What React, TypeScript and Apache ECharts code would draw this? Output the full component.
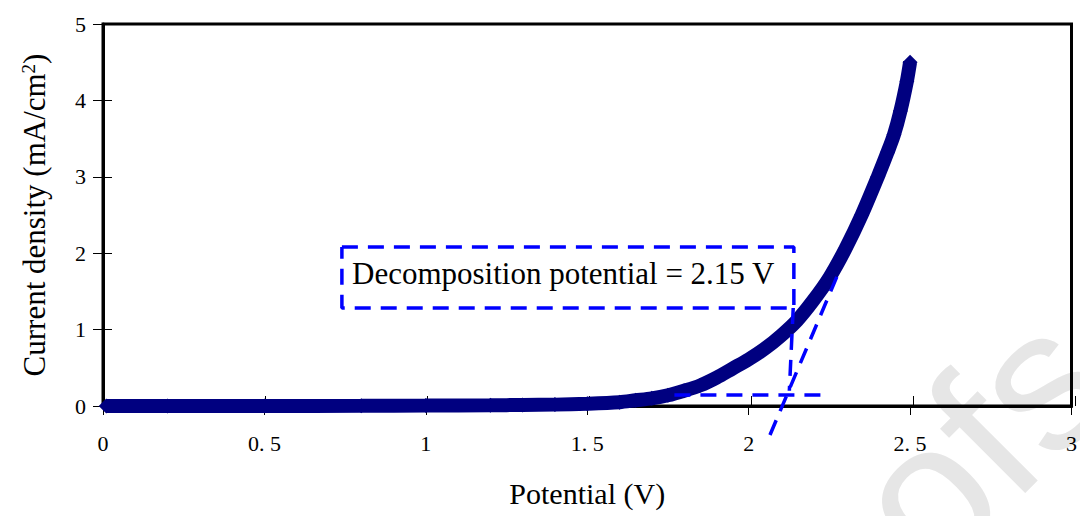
import React, { useEffect, useRef } from "react";
import * as echarts from "echarts";

// Measured polarization curve
const potential = [0.01, 0.2, 0.5, 0.8, 1.0, 1.2, 1.3, 1.4, 1.5, 1.6, 1.65, 1.7, 1.75, 1.8, 1.85, 1.9, 1.95, 2.0, 2.05, 2.1, 2.15, 2.2, 2.25, 2.3, 2.35, 2.4, 2.43, 2.45, 2.47, 2.49, 2.5];
const current = [0, 0, 0, 0.002, 0.005, 0.01, 0.013, 0.018, 0.03, 0.05, 0.075, 0.1, 0.14, 0.2, 0.27, 0.37, 0.49, 0.61, 0.75, 0.92, 1.12, 1.38, 1.68, 2.06, 2.5, 3.0, 3.32, 3.55, 3.86, 4.25, 4.5];

// Annotation geometry (data coordinates)
const boxPotential = [0.74, 2.14, 2.14, 0.74, 0.74];
const boxCurrent = [2.08, 2.08, 1.283, 1.283, 2.08];
const dropPotential = [2.138, 2.126];
const dropCurrent = [1.283, 0.2];
const baselinePotential = [1.77, 2.226];
const baselineCurrent = [0.144, 0.144];
const tangentPotential = [2.066, 2.273];
const tangentCurrent = [-0.38, 1.69];

const annotationText = "Decomposition potential = 2.15 V";
const xTitle = "Potential (V)";
const yTitle = "Current density (mA/cm{sup|2})";
const watermark = "Proofs";

const zip = (a: number[], b: number[]) => a.map((v, i) => [v, b[i]]);

const SERIF = "'Liberation Serif', 'Times New Roman', serif";
const BLUE = "#0000ff";
const NAVY = "#000080";

export default function App() {
  const ref = useRef<HTMLDivElement>(null);
  useEffect(() => {
    if (!ref.current) return;
    const chart = echarts.init(ref.current, undefined, { renderer: "svg" });
    const dashed = (a: number[], b: number[]) => ({
      type: "line",
      data: zip(a, b),
      symbol: "none",
      clip: false,
      silent: true,
      z: 5,
      lineStyle: { color: BLUE, width: 3.5, type: [16, 10] },
    });
    const gridBox = { left: 103, right: 5, top: 24, bottom: 110 };
    const tickStyle = { color: "#000", width: 1 };
    chart.setOption({
      animation: false,
      grid: [
        { ...gridBox, show: true, borderColor: "#000", borderWidth: 3 },
        { ...gridBox, show: false },
      ],
      xAxis: [
        {
          type: "value",
          gridIndex: 0,
          min: 0,
          max: 3,
          interval: 0.5,
          name: xTitle,
          nameLocation: "middle",
          nameGap: 72,
          nameTextStyle: { fontFamily: SERIF, fontSize: 30, color: "#000" },
          axisLine: { show: true, lineStyle: { color: "#000", width: 3 } },
          axisTick: { show: true, length: 9, lineStyle: tickStyle },
          axisLabel: {
            margin: 26,
            fontFamily: SERIF,
            fontSize: 22,
            color: "#000",
            formatter: (v: number) => String(v).replace(".", ". "),
          },
          splitLine: { show: false },
        },
        {
          type: "value",
          gridIndex: 1,
          min: 0,
          max: 3,
          interval: 0.5,
          axisLine: { show: false },
          axisTick: { show: true, inside: true, length: 10, lineStyle: tickStyle },
          axisLabel: { show: false },
          splitLine: { show: false },
        },
      ],
      yAxis: [
        {
          type: "value",
          gridIndex: 0,
          min: 0,
          max: 5,
          interval: 1,
          name: yTitle,
          nameLocation: "middle",
          nameGap: 53,
          nameTextStyle: {
            fontFamily: SERIF,
            fontSize: 31,
            color: "#000",
            rich: {
              sup: { fontFamily: SERIF, fontSize: 19, color: "#000", verticalAlign: "top", lineHeight: 18 },
            },
          },
          axisLine: { show: true, lineStyle: { color: "#000", width: 3 } },
          axisTick: { show: true, length: 10, lineStyle: tickStyle },
          axisLabel: { margin: 17, fontFamily: SERIF, fontSize: 22, color: "#000" },
          splitLine: { show: false },
        },
        {
          type: "value",
          gridIndex: 1,
          min: 0,
          max: 5,
          interval: 1,
          axisLine: { show: false },
          axisTick: { show: true, inside: true, length: 9, lineStyle: tickStyle },
          axisLabel: { show: false },
          splitLine: { show: false },
        },
      ],
      series: [
        {
          type: "line",
          data: zip(potential, current),
          smooth: 0.3,
          symbol: "diamond",
          symbolSize: 15,
          showAllSymbol: true,
          itemStyle: { color: NAVY },
          lineStyle: { color: NAVY, width: 14 },
          z: 3,
        },
        dashed(boxPotential, boxCurrent),
        dashed(dropPotential, dropCurrent),
        dashed(baselinePotential, baselineCurrent),
        dashed(tangentPotential, tangentCurrent),
      ],
      graphic: [
        {
          type: "text",
          x: 665,
          y: 755,
          rotation: Math.PI / 4,
          z: -10,
          silent: true,
          style: {
            text: watermark,
            fontFamily: "'Liberation Sans', Arial, sans-serif",
            fontWeight: "normal",
            fontSize: 200,
            fill: "#e6e6e6",
            textAlign: "left",
            textVerticalAlign: "middle",
          },
        },
        {
          type: "text",
          x: 352,
          y: 273,
          z: 10,
          style: {
            text: annotationText,
            fontFamily: SERIF,
            fontSize: 31,
            fill: "#000",
            textAlign: "left",
            textVerticalAlign: "middle",
          },
        },
      ],
    });
    return () => chart.dispose();
  }, []);
  return (
    <div
      ref={ref}
      style={{ position: "absolute", left: 0, top: 0, width: 1080, height: 516, background: "#fff" }}
    />
  );
}
